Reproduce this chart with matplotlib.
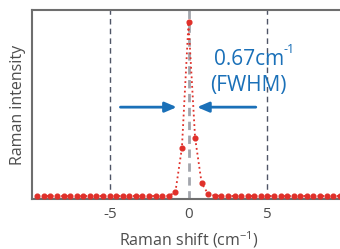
import matplotlib.pyplot as plt

# Raman spectrum data
raman_shift = [
    -9.66, -9.24, -8.82, -8.40, -7.98, -7.56, -7.14, -6.72, -6.30, -5.88,
    -5.46, -5.04, -4.62, -4.20, -3.78, -3.36, -2.94, -2.52, -2.10, -1.68,
    -1.26, -0.84, -0.42, 0.00, 0.42, 0.84, 1.26, 1.68, 2.10, 2.52,
    2.94, 3.36, 3.78, 4.20, 4.62, 5.04, 5.46, 5.88, 6.30, 6.72,
    7.14, 7.56, 7.98, 8.40, 8.82, 9.24, 9.66,
]
intensity = [
    0.017, 0.017, 0.017, 0.017, 0.017, 0.017, 0.017, 0.017, 0.017, 0.017,
    0.017, 0.017, 0.017, 0.017, 0.017, 0.017, 0.017, 0.017, 0.017, 0.018,
    0.018, 0.038, 0.290, 1.000, 0.347, 0.089, 0.028, 0.019, 0.018, 0.017,
    0.017, 0.017, 0.017, 0.017, 0.017, 0.017, 0.017, 0.017, 0.017, 0.017,
    0.017, 0.017, 0.017, 0.017, 0.017, 0.017, 0.017,
]
guide_lines = [-5, 0, 5]
tick_values = [-5, 0, 5]
tick_labels = ["-5", "0", "5"]

text_gray = "#4d4d4d"
blue = "#1a70b8"
red = "#e0302a"

plt.rcParams["font.family"] = ["Open Sans", "DejaVu Sans"]

fig = plt.figure(figsize=(3.4, 2.49), dpi=100)
ax = fig.add_axes([32 / 340, 50 / 249, 313 / 340, 189 / 249])

for xv in guide_lines:
    if xv == 0:
        ax.axvline(xv, color="#a3a6ad", lw=2.0, ls=(0, (3, 2)), zorder=1)
    else:
        ax.axvline(xv, color="#4f5566", lw=1.0, ls=(0, (4, 3)), zorder=1)

ax.plot(raman_shift, intensity, color=red, ls=":", lw=1.3, marker="o",
        markersize=3.4, zorder=3)

# FWHM arrows
arrow_style = dict(arrowstyle="-|>,head_length=0.7,head_width=0.3",
                   color=blue, lw=2.0, shrinkA=0, shrinkB=0)
ax.annotate("", xy=(-0.75, 0.52), xytext=(-4.35, 0.52), arrowprops=arrow_style)
ax.annotate("", xy=(0.55, 0.52), xytext=(4.3, 0.52), arrowprops=arrow_style)

# FWHM label, superscript drawn as a separate small text
ax.text(3.85, 0.79, "0.67cm", color=blue, fontsize=15, ha="center",
        va="center")
ax.text(6.05, 0.845, "-1", color=blue, fontsize=9, ha="left", va="center")
ax.text(3.85, 0.645, "(FWHM)", color=blue, fontsize=15, ha="center",
        va="center")

ax.set_xlim(-10, 10)
ax.set_ylim(0, 1.07)
ax.set_yticks([])
ax.set_xticks(tick_values)
ax.set_xticklabels(tick_labels)
ax.tick_params(axis="x", length=0, pad=6, labelsize=11, labelcolor=text_gray)

ax.set_xlabel("Raman shift (cm$^{\\mathregular{-1}}$)", fontsize=11.5,
              color=text_gray, labelpad=5)
ax.set_ylabel("Raman intensity", fontsize=11.5, color=text_gray, labelpad=4)

for side in ["left", "top", "bottom"]:
    ax.spines[side].set_color("#6e6e6e")
    ax.spines[side].set_linewidth(1.5)
ax.spines["right"].set_visible(False)

fig.savefig("out.png", dpi=100)
